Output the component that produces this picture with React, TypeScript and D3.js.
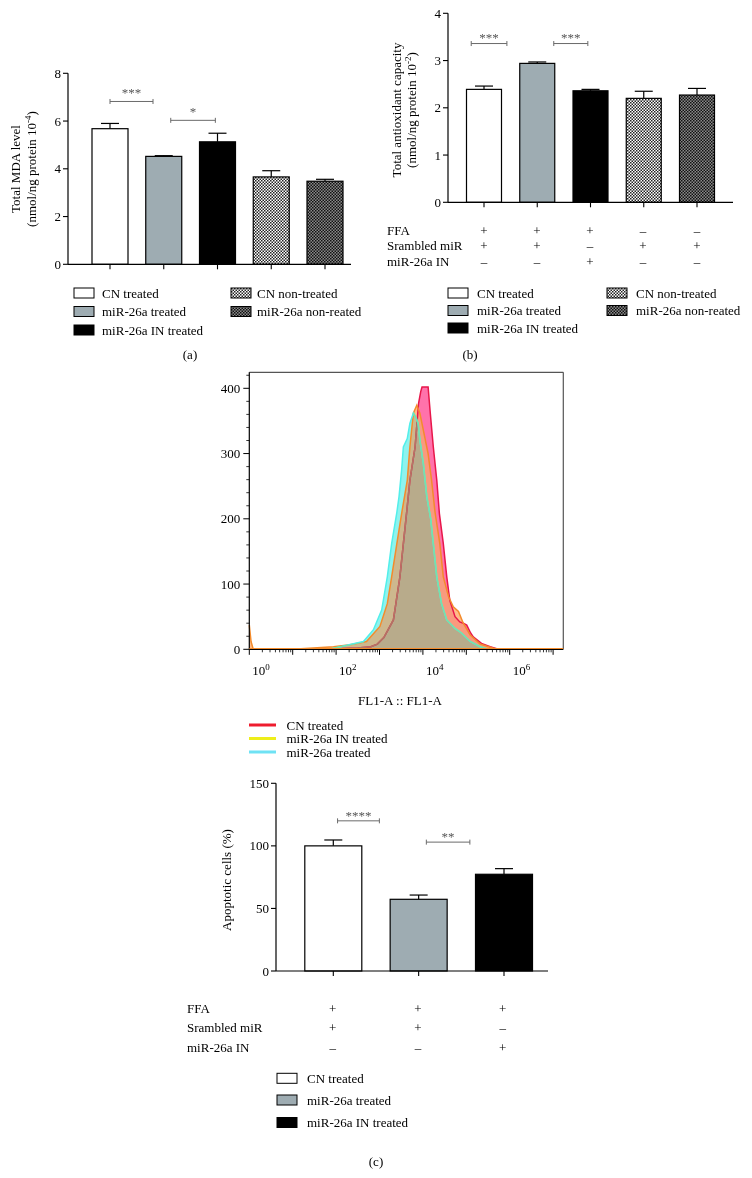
import React from "react";
import * as d3 from "d3";

const FONT = "'Liberation Serif', 'Times New Roman', serif";

// ---------- data ----------
const groupNames = ["CN treated", "miR-26a treated", "miR-26a IN treated", "CN non-treated", "miR-26a non-reated"];
const groupFills = ["#ffffff", "#9eacb2", "#000000", "url(#checkLight)", "url(#checkDark)"];

const mdaMeans = [5.68, 4.52, 5.13, 3.66, 3.48];
const mdaErrors = [0.22, 0.03, 0.36, 0.26, 0.08];
const mdaTicks = [0, 2, 4, 6, 8];

const taoMeans = [2.39, 2.94, 2.36, 2.2, 2.27];
const taoErrors = [0.07, 0.03, 0.03, 0.15, 0.14];
const taoTicks = [0, 1, 2, 3, 4];

const apoNames = ["CN treated", "miR-26a treated", "miR-26a IN treated"];
const apoFills = ["#ffffff", "#9eacb2", "#000000"];
const apoMeans = [100, 57.3, 77.3];
const apoErrors = [4.7, 3.4, 4.5];
const apoTicks = [0, 50, 100, 150];

const conditionRows = ["FFA", "Srambled miR", "miR-26a IN"];
const taoConditions = [
  ["+", "+", "+", "–", "–"],
  ["+", "+", "–", "+", "+"],
  ["–", "–", "+", "–", "–"],
];
const apoConditions = [
  ["+", "+", "+"],
  ["+", "+", "–"],
  ["–", "–", "+"],
];

const mdaSig = [
  { from: 0, to: 0.8, y: 6.82, label: "***" },
  { from: 1.13, to: 1.96, y: 6.03, label: "*" },
];
const taoSig = [
  { from: -0.24, to: 0.43, y: 3.36, label: "***" },
  { from: 1.31, to: 1.95, y: 3.36, label: "***" },
];
const apoSig = [
  { from: 0.05, to: 0.54, y: 120, label: "****" },
  { from: 1.09, to: 1.6, y: 103, label: "**" },
];

// flow cytometry histograms: [log10(FL1-A), count]
const cnTreatedHist: [number, number][] = [
  [1.5, 0], [2.0, 1], [2.5, 2], [2.8, 4], [2.95, 8], [3.1, 18], [3.32, 45], [3.47, 111], [3.55, 162],
  [3.63, 213], [3.7, 259], [3.82, 310], [3.9, 377], [3.95, 395], [3.98, 402], [4.12, 402], [4.17, 362],
  [4.24, 310], [4.32, 259], [4.38, 208], [4.47, 162], [4.55, 111], [4.62, 75], [4.74, 50], [4.85, 42],
  [4.93, 40], [5.01, 37], [5.1, 25], [5.16, 19], [5.35, 9], [5.55, 4], [5.7, 1], [5.9, 0],
];
const inTreatedHist: [number, number][] = [
  [0, 37], [0.04, 12], [0.09, 0], [1.0, 0], [1.94, 4], [2.32, 7], [2.7, 12], [3.01, 35], [3.18, 70],
  [3.28, 111], [3.4, 162], [3.52, 212], [3.64, 259], [3.7, 310], [3.78, 362], [3.86, 374], [3.93, 362],
  [4.01, 336], [4.12, 300], [4.2, 259], [4.28, 210], [4.39, 162], [4.47, 111], [4.59, 81], [4.7, 65],
  [4.82, 58], [4.93, 40], [5.09, 22], [5.32, 8], [5.51, 4], [5.7, 0], [7.23, 0],
];
const mirTreatedHist: [number, number][] = [
  [1.0, 0], [1.9, 1], [2.17, 5], [2.63, 12], [2.86, 30], [3.05, 60], [3.18, 111], [3.28, 162], [3.4, 210],
  [3.45, 234], [3.51, 275], [3.55, 310], [3.64, 323], [3.7, 346], [3.78, 362], [3.84, 355], [3.89, 346],
  [3.93, 321], [4.01, 285], [4.09, 234], [4.18, 200], [4.24, 162], [4.32, 111], [4.43, 70], [4.55, 45],
  [4.74, 32], [4.89, 25], [5.09, 12], [5.32, 4], [5.5, 0],
];
const histLegend = [
  { name: "CN treated", color: "#ee1c2e" },
  { name: "miR-26a IN treated", color: "#eeee1a" },
  { name: "miR-26a treated", color: "#6fe2f4" },
];
const histYTicks = [0, 100, 200, 300, 400];
const histDecadeLabels = [0, 2, 4, 6];

// ---------- components ----------
type Sig = { from: number; to: number; y: number; label: string };

function BarChart(p: {
  names: string[]; means: number[]; errors: number[]; fills: string[]; ticks: number[]; yMax: number;
  axisX0: number; axisX1: number; y0: number; y1: number; c0: number; c1: number; barW: number;
  sig: Sig[]; starGap: number; titles: React.ReactNode[]; titleX: number[]; titleY: number;
}) {
  const n = p.names.length;
  const x = d3.scalePoint<string>().domain(p.names).range([p.c0, p.c1]);
  const xi = d3.scaleLinear().domain([0, n - 1]).range([p.c0, p.c1]);
  const y = d3.scaleLinear().domain([0, p.yMax]).range([p.y0, p.y1]);
  return (
    <g>
      {p.names.map((nm, i) => {
        const cx = x(nm)!;
        const top = y(p.means[i]);
        const et = y(p.means[i] + p.errors[i]);
        return (
          <g key={nm}>
            <line x1={cx} x2={cx} y1={top} y2={et} stroke="#000" strokeWidth={1.2} />
            <line x1={cx - 9} x2={cx + 9} y1={et} y2={et} stroke="#000" strokeWidth={1.2} />
            <rect x={cx - p.barW / 2} y={top} width={p.barW} height={p.y0 - top} fill={p.fills[i]} stroke="#000" strokeWidth={1.2} />
            <line x1={cx} x2={cx} y1={p.y0} y2={p.y0 + 5} stroke="#000" strokeWidth={1.1} />
          </g>
        );
      })}
      <line x1={p.axisX0} x2={p.axisX1} y1={p.y0} y2={p.y0} stroke="#000" strokeWidth={1.2} />
      <line x1={p.axisX0} x2={p.axisX0} y1={p.y0} y2={y(p.yMax)} stroke="#000" strokeWidth={1.2} />
      {p.ticks.map((t) => (
        <g key={t}>
          <line x1={p.axisX0 - 5} x2={p.axisX0} y1={y(t)} y2={y(t)} stroke="#000" strokeWidth={1.1} />
          <text x={p.axisX0 - 7} y={y(t) + 4.5} textAnchor="end" fontSize={13}>{t}</text>
        </g>
      ))}
      {p.sig.map((s, i) => {
        const a = xi(s.from), b = xi(s.to), yy = y(s.y);
        return (
          <g key={i} stroke="#6a6a6a" strokeWidth={1}>
            <line x1={a} x2={b} y1={yy} y2={yy} />
            <line x1={a} x2={a} y1={yy - 2.5} y2={yy + 2.5} />
            <line x1={b} x2={b} y1={yy - 2.5} y2={yy + 2.5} />
            <text x={(a + b) / 2} y={yy - p.starGap + 6} textAnchor="middle" fontSize={13} fill="#555" stroke="none">{s.label}</text>
          </g>
        );
      })}
      {p.titles.map((t, i) => (
        <text key={i} transform={`translate(${p.titleX[i]},${p.titleY}) rotate(-90)`} textAnchor="middle" fontSize={13}>{t}</text>
      ))}
    </g>
  );
}

function Legend(p: { names: string[]; fills: string[]; cols: number[][]; rows: number[]; layout: number[][] }) {
  return (
    <g>
      {p.names.map((nm, i) => {
        const [c, r] = p.layout[i];
        const [bx, tx] = p.cols[c];
        const cy = p.rows[r];
        return (
          <g key={nm}>
            <rect x={bx} y={cy - 5} width={20} height={10} fill={p.fills[i]} stroke="#000" strokeWidth={1} />
            <text x={tx} y={cy + 4.5} fontSize={13}>{nm}</text>
          </g>
        );
      })}
    </g>
  );
}

function ConditionTable(p: { labelX: number; rows: number[]; centers: number[]; values: string[][] }) {
  return (
    <g fontSize={13}>
      {conditionRows.map((r, i) => (
        <g key={r}>
          <text x={p.labelX} y={p.rows[i] + 4.5}>{r}</text>
          {p.values[i].map((v, j) => (
            <text key={j} x={p.centers[j]} y={p.rows[i] + 4.5} textAnchor="middle">{v}</text>
          ))}
        </g>
      ))}
    </g>
  );
}

function Histogram() {
  const xL = 249.3, xR = 563.3, yB = 649.3, yT = 372.3;
  const x = d3.scaleLinear().domain([0, 7.235]).range([xL, xR]);
  const y = d3.scaleLinear().domain([0, 400]).range([yB, 388.3]);
  const area = d3.area<[number, number]>().x((d) => x(d[0])).y0(yB).y1((d) => y(d[1]));
  const line = d3.line<[number, number]>().x((d) => x(d[0])).y((d) => y(d[1]));
  const aRed = area(cnTreatedHist)!, aOr = area(inTreatedHist)!, aCy = area(mirTreatedHist)!;
  const lRed = line(cnTreatedHist)!, lOr = line(inTreatedHist)!, lCy = line(mirTreatedHist)!;
  const majors = d3.range(0, 8);
  const minors: number[] = [];
  for (let k = 0; k < 8; k++) for (let m = 2; m <= 9; m++) { const v = k + Math.log10(m); if (v < 7.235) minors.push(v); }
  const yMinor = d3.range(0, 421, 20).filter((v) => v % 100 !== 0);
  return (
    <g>
      <defs>
        <clipPath id="clipRed"><path d={aRed} /></clipPath>
        <clipPath id="clipOr"><path d={aOr} /></clipPath>
        <clipPath id="clipCy"><path d={aCy} /></clipPath>
      </defs>
      <path d={aCy} fill="#8ef3ee" />
      <path d={aOr} fill="#ffbb8a" />
      <path d={aRed} fill="#ff72ab" />
      <g clipPath="url(#clipOr)"><path d={aRed} fill="#f99a7e" /></g>
      <g clipPath="url(#clipOr)"><path d={aCy} fill="#cdb88e" /></g>
      <g clipPath="url(#clipOr)"><g clipPath="url(#clipRed)"><path d={aCy} fill="#b8ab8b" /></g></g>
      <path d={lRed} fill="none" stroke="#e8174a" strokeWidth={1.5} />
      <g clipPath="url(#clipCy)"><path d={lRed} fill="none" stroke="#b07766" strokeWidth={1.5} /></g>
      <path d={lOr} fill="none" stroke="#f38b2c" strokeWidth={1.5} />
      <path d={lCy} fill="none" stroke="#52efeb" strokeWidth={1.5} />
      <g clipPath="url(#clipOr)"><path d={lCy} fill="none" stroke="#74e2ac" strokeWidth={1.5} /></g>
      <line x1={xL} x2={xR} y1={yT} y2={yT} stroke="#555" strokeWidth={1.2} />
      <line x1={xR} x2={xR} y1={yT} y2={yB} stroke="#555" strokeWidth={1.2} />
      <line x1={xL} x2={xL} y1={yT} y2={yB} stroke="#000" strokeWidth={1.2} />
      <line x1={xL} x2={xR} y1={yB} y2={yB} stroke="#000" strokeWidth={1.2} />
      <line x1={xL} x2={xR} y1={yB - 0.8} y2={yB - 0.8} stroke="#f38b2c" strokeWidth={1.2} />
      {majors.map((k) => (
        <line key={k} x1={x(k)} x2={x(k)} y1={yB} y2={yB + 5.5} stroke="#000" strokeWidth={1} />
      ))}
      {minors.map((v, i) => (
        <line key={i} x1={x(v)} x2={x(v)} y1={yB} y2={yB + 3} stroke="#000" strokeWidth={0.8} />
      ))}
      {histDecadeLabels.map((k) => (
        <text key={k} x={x(k) + 3} y={675} fontSize={13}>10<tspan dy={-5} fontSize={9}>{k}</tspan></text>
      ))}
      {histYTicks.map((t) => (
        <g key={t}>
          <line x1={xL - 6} x2={xL} y1={y(t)} y2={y(t)} stroke="#000" strokeWidth={1} />
          <text x={xL - 9} y={y(t) + 4.5} textAnchor="end" fontSize={13}>{t}</text>
        </g>
      ))}
      {yMinor.map((t) => (
        <line key={t} x1={xL - 3} x2={xL} y1={y(t)} y2={y(t)} stroke="#000" strokeWidth={0.8} />
      ))}
      <text x={400} y={705} textAnchor="middle" fontSize={13}>FL1-A :: FL1-A</text>
      {histLegend.map((l, i) => (
        <g key={l.name}>
          <line x1={249} x2={276} y1={725 + i * 13.5} y2={725 + i * 13.5} stroke={l.color} strokeWidth={3} />
          <text x={286.5} y={725 + i * 13.5 + 4.5} fontSize={13}>{l.name}</text>
        </g>
      ))}
    </g>
  );
}

export default function App() {
  return (
    <svg width={752} height={1178} style={{ position: "absolute", left: 0, top: 0, display: "block", willChange: "transform" }} fontFamily={FONT} fill="#000">
      <defs>
        <pattern id="checkLight" width={3} height={3} patternUnits="userSpaceOnUse">
          <rect width={3} height={3} fill="#ffffff" />
          <rect width={1.5} height={1.5} fill="#222" />
          <rect x={1.5} y={1.5} width={1.5} height={1.5} fill="#222" />
        </pattern>
        <pattern id="checkDark" width={3} height={3} patternUnits="userSpaceOnUse">
          <rect width={3} height={3} fill="#8a8a8a" />
          <rect width={1.5} height={1.5} fill="#111" />
          <rect x={1.5} y={1.5} width={1.5} height={1.5} fill="#111" />
        </pattern>
      </defs>
      <rect width={752} height={1178} fill="#fff" />

      {/* (a) */}
      <BarChart names={groupNames} means={mdaMeans} errors={mdaErrors} fills={groupFills} ticks={mdaTicks} yMax={8}
        axisX0={68} axisX1={351} y0={264.3} y1={73.3} c0={110} c1={325} barW={36} sig={mdaSig} starGap={10.5}
        titles={["Total MDA level", <>(nmol/ng protein 10<tspan dy={-5} fontSize={9}>-4</tspan><tspan dy={5}>)</tspan></>]}
        titleX={[20, 36]} titleY={169} />
      <Legend names={groupNames} fills={groupFills} cols={[[74, 102], [231, 257]]} rows={[293, 311.5, 330]}
        layout={[[0, 0], [0, 1], [0, 2], [1, 0], [1, 1]]} />
      <text x={190} y={359} textAnchor="middle" fontSize={13}>(a)</text>

      {/* (b) */}
      <BarChart names={groupNames} means={taoMeans} errors={taoErrors} fills={groupFills} ticks={taoTicks} yMax={4}
        axisX0={448} axisX1={733} y0={202.3} y1={13.3} c0={484} c1={697} barW={35} sig={taoSig} starGap={7.5}
        titles={["Total antioxidant capacity", <>(nmol/ng protein 10<tspan dy={-5} fontSize={9}>-2</tspan><tspan dy={5}>)</tspan></>]}
        titleX={[400.5, 416]} titleY={110} />
      <ConditionTable labelX={387} rows={[230, 245.5, 261]} centers={[484, 537, 590, 643, 697]} values={taoConditions} />
      <Legend names={groupNames} fills={groupFills} cols={[[448, 477], [607, 636]]} rows={[293, 310.5, 328]}
        layout={[[0, 0], [0, 1], [0, 2], [1, 0], [1, 1]]} />
      <text x={470} y={359} textAnchor="middle" fontSize={13}>(b)</text>

      {/* (c) histogram */}
      <Histogram />

      {/* (c) apoptosis bars */}
      <BarChart names={apoNames} means={apoMeans} errors={apoErrors} fills={apoFills} ticks={apoTicks} yMax={150}
        axisX0={276} axisX1={548} y0={971} y1={783.3} c0={333.3} c1={504} barW={57} sig={apoSig} starGap={7.3}
        titles={["Apoptotic cells (%)"]} titleX={[231]} titleY={880} />
      <ConditionTable labelX={187} rows={[1008.3, 1027.7, 1047.3]} centers={[332.7, 418, 502.7]} values={apoConditions} />
      <Legend names={apoNames} fills={apoFills} cols={[[277, 307]]} rows={[1078.3, 1100, 1122.5]}
        layout={[[0, 0], [0, 1], [0, 2]]} />
      <text x={376} y={1166} textAnchor="middle" fontSize={13}>(c)</text>
    </svg>
  );
}
